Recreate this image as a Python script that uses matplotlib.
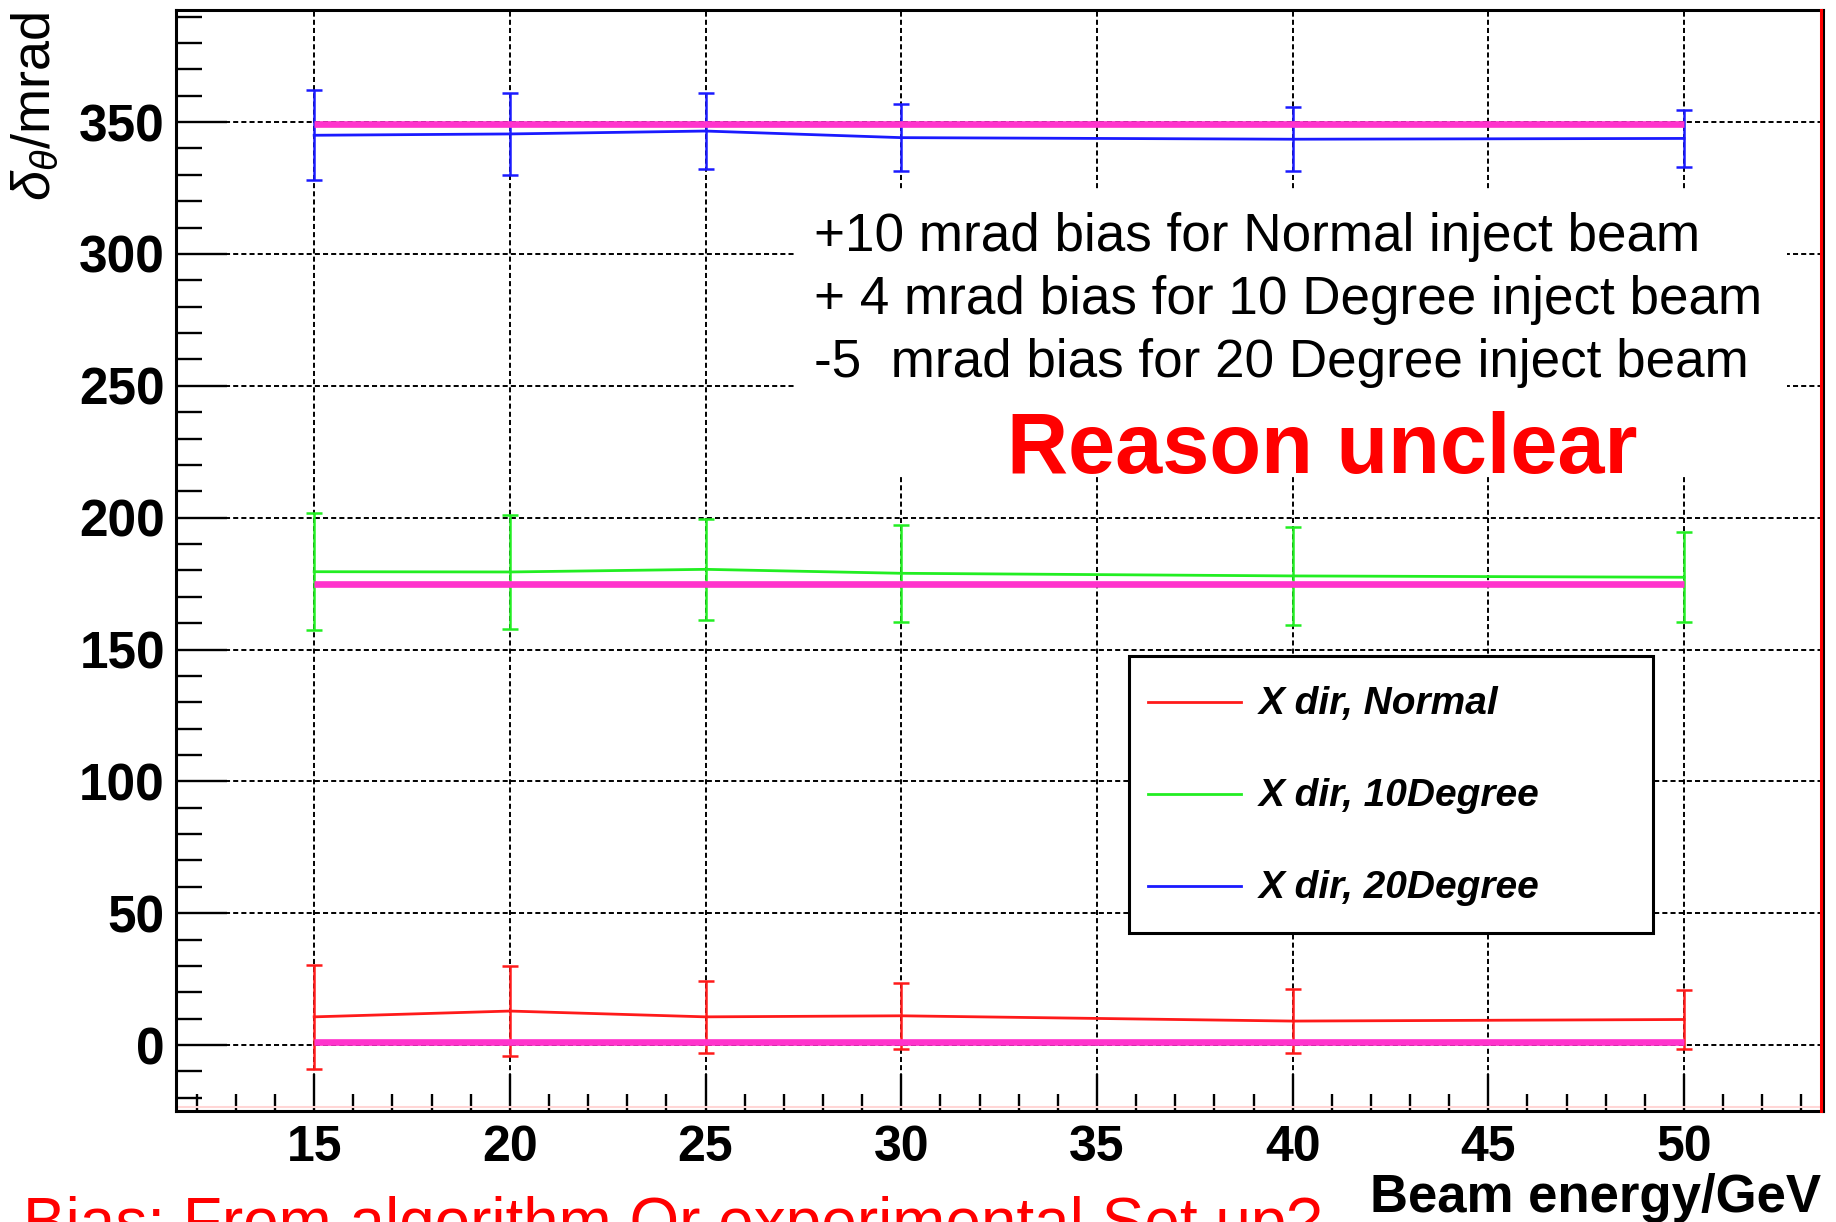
import matplotlib
matplotlib.use("Agg")
import matplotlib.pyplot as plt
from matplotlib.ticker import MultipleLocator
from matplotlib.patches import Rectangle

plt.rcParams['font.family'] = ['Liberation Sans', 'DejaVu Sans']
plt.rcParams['mathtext.fontset'] = 'custom'
plt.rcParams['mathtext.rm'] = 'Liberation Sans'
plt.rcParams['mathtext.it'] = 'Liberation Sans:italic'
plt.rcParams['mathtext.bf'] = 'Liberation Sans:bold'

# Beam energies (GeV) and measured angular offsets (mrad) with their spreads
energy = [15, 20, 25, 30, 40, 50]

normal_val = [10.7, 12.9, 10.7, 11.1, 9.1, 9.7]
normal_err = [19.6, 16.9, 13.7, 12.4, 12.1, 11.0]

deg10_val = [179.5, 179.4, 180.4, 178.9, 177.9, 177.4]
deg10_err = [22.1, 21.7, 19.1, 18.5, 18.6, 17.0]

deg20_val = [345.0, 345.5, 346.6, 344.1, 343.5, 343.8]
deg20_err = [17.0, 15.5, 14.3, 12.7, 12.2, 10.7]

# Nominal injection angles (mrad)
nominal = [1.0, 175.0, 349.4]

labels = ["X dir, Normal", "X dir, 10Degree", "X dir, 20Degree"]
colors = ["#ff1a1a", "#22ee22", "#1a1aff"]
values = [normal_val, deg10_val, deg20_val]
errors = [normal_err, deg10_err, deg20_err]

notes = ["+10 mrad bias for Normal inject beam",
         "+ 4 mrad bias for 10 Degree inject beam",
         "-5  mrad bias for 20 Degree inject beam"]

W, H = 1836, 1222
fig = plt.figure(figsize=(W / 100, H / 100), dpi=100)
ax_l, ax_r, ax_t, ax_b = 176, 1823, 10, 1111
ax = fig.add_axes([ax_l / W, 1 - ax_b / H, (ax_r - ax_l) / W, (ax_b - ax_t) / H])


def axfrac(px, py):
    return (px - ax_l) / (ax_r - ax_l), (ax_b - py) / (ax_b - ax_t)


ax.set_xlim(11.47, 53.55)
ax.set_ylim(-25, 392.5)

ax.xaxis.set_major_locator(MultipleLocator(5))
ax.xaxis.set_minor_locator(MultipleLocator(1))
ax.yaxis.set_major_locator(MultipleLocator(50))
ax.yaxis.set_minor_locator(MultipleLocator(10))
ax.set_xticks([15, 20, 25, 30, 35, 40, 45, 50])

ax.tick_params(axis='y', which='major', direction='in', length=37, width=1.7,
               labelsize=37, pad=8, right=False)
ax.tick_params(axis='y', which='minor', direction='in', length=19, width=1.7, right=False)
ax.tick_params(axis='x', which='major', direction='in', length=27, width=1.7,
               labelsize=36, pad=10, top=False)
ax.tick_params(axis='x', which='minor', direction='in', length=12, width=1.7, top=False)
for lab in ax.get_xticklabels() + ax.get_yticklabels():
    lab.set_fontweight('bold')

for side in ['left', 'right', 'top', 'bottom']:
    ax.spines[side].set_linewidth(2.2)
    ax.spines[side].set_color('black')

ax.set_axisbelow(True)
ax.grid(which='major', color='black', linewidth=1.4, linestyle=(0, (2.6, 1.6)))

# Series with error bars
for val, err, col in zip(values, errors, colors):
    ax.errorbar(energy, val, yerr=err, color=col, linewidth=2.0, elinewidth=1.8,
                capsize=5.8, capthick=1.8, zorder=3)

# Nominal reference lines
for ref in nominal:
    ax.plot([energy[0], energy[-1]], [ref, ref], color='#ff33cc', linewidth=4.8,
            solid_capstyle='butt', zorder=4)

# White panel behind the annotations
x0, y0 = axfrac(796, 477)
x1, y1 = axfrac(1787, 190)
ax.add_patch(Rectangle((x0, y0), x1 - x0, y1 - y0, transform=ax.transAxes,
                       facecolor='white', edgecolor='none', zorder=2))

for note, py in zip(notes, [251, 314, 377]):
    tx, ty = axfrac(814, py)
    ax.text(tx, ty, note, transform=ax.transAxes, fontsize=38.2, color='black',
            ha='left', va='baseline', zorder=5)
tx, ty = axfrac(1007, 473)
ax.text(tx, ty, "Reason unclear", transform=ax.transAxes, fontsize=61,
        fontweight='bold', color='#ff0000', ha='left', va='baseline', zorder=5)

# Legend panel
lx0, ly0 = axfrac(1129, 933)
lx1, ly1 = axfrac(1653, 656)
ax.add_patch(Rectangle((lx0, ly0), lx1 - lx0, ly1 - ly0, transform=ax.transAxes,
                       facecolor='white', edgecolor='black', linewidth=2.2, zorder=5))
for lab, col, py in zip(labels, colors, [701.7, 793.7, 886]):
    hx0, hy = axfrac(1148, py)
    hx1, _ = axfrac(1241, py)
    ax.plot([hx0, hx1], [hy, hy], color=col, linewidth=2.0, transform=ax.transAxes,
            zorder=6)
    tx, ty = axfrac(1259, py + 12)
    ax.text(tx, ty, lab, transform=ax.transAxes, fontsize=28, fontweight='bold',
            fontstyle='italic', color='black', ha='left', va='baseline', zorder=6)

# Frame accents along the right and bottom edges
rx, _ = axfrac(1821, 0)
ax.plot([rx, rx], [0, 1], color='#ff0000', linewidth=2.2, transform=ax.transAxes,
        clip_on=False, zorder=7)
_, by = axfrac(0, 1107)
ax.plot([0, 1], [by, by], color='#ffd6d6', linewidth=1.5, transform=ax.transAxes,
        clip_on=False, zorder=1)

# Axis titles
fig.text(35 / W, 1 - 12 / H, r'$\delta_{\theta}$/mrad', rotation=90, fontsize=39,
         ha='center', va='top', color='black')
fig.text(1821 / W, 1 - 1212 / H, "Beam energy/GeV", fontsize=38, fontweight='bold',
         ha='right', va='baseline', color='black')

fig.text(23 / W, 1 - 1243 / H, "Bias: From algorithm Or experimental Set up?",
         fontsize=46, color='#ff0000', ha='left', va='baseline')

fig.savefig("out.png", dpi=100)
